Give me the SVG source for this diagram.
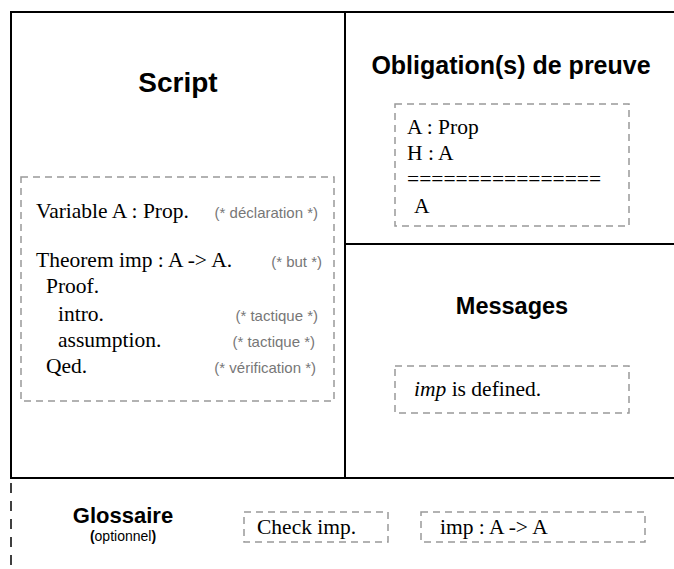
<svg xmlns="http://www.w3.org/2000/svg" width="674" height="569" viewBox="0 0 674 569">
<style>
.frame{fill:none;stroke:#000;stroke-width:2}
.dbox{fill:none;stroke:#999;stroke-width:1.5;stroke-dasharray:7 5}
.title{font-family:"Liberation Sans",Arial,sans-serif;font-weight:bold;fill:#000;text-anchor:middle}
.code{font-family:"Liberation Serif","Times New Roman",serif;font-size:21.5px;fill:#000}
.cmt{font-family:"Liberation Sans",Arial,sans-serif;font-size:15px;fill:#777;text-anchor:end}
</style>
<rect width="674" height="569" fill="#fff"/>
<g id="frame">
<line x1="11" y1="478" x2="674" y2="478" stroke="#999" stroke-width="1.5" stroke-dasharray="7 5"/>
<polyline class="frame" points="674,12 11,12 11,478 674,478"/>
<line class="frame" x1="345" y1="12" x2="345" y2="478"/>
<line class="frame" x1="345" y1="244" x2="674" y2="244"/>
<line x1="11" y1="483" x2="11" y2="569" stroke="#000" stroke-width="1.5" stroke-dasharray="10 8"/>
</g>
<g id="script">
<text class="title" x="178" y="92" font-size="28">Script</text>
<rect class="dbox" x="21" y="177" width="313" height="224"/>
<text class="code" x="36" y="218">Variable A : Prop.</text>
<text class="cmt" x="318" y="218">(* déclaration *)</text>
<text class="code" x="36" y="267">Theorem imp : A -&gt; A.</text>
<text class="cmt" x="322" y="267">(* but *)</text>
<text class="code" x="46" y="293">Proof.</text>
<text class="code" x="58" y="321">intro.</text>
<text class="cmt" x="318" y="321">(* tactique *)</text>
<text class="code" x="58" y="347">assumption.</text>
<text class="cmt" x="315" y="347">(* tactique *)</text>
<text class="code" x="46" y="373">Qed.</text>
<text class="cmt" x="316" y="373">(* vérification *)</text>
</g>
<g id="obligations">
<text class="title" x="511" y="74" font-size="25">Obligation(s) de preuve</text>
<rect class="dbox" x="395" y="104" width="234" height="122"/>
<text class="code" x="407" y="134">A : Prop</text>
<text class="code" x="407" y="160">H : A</text>
<text class="code" x="407" y="186">================</text>
<text class="code" x="414" y="213">A</text>
</g>
<g id="messages">
<text class="title" x="512" y="314" font-size="23.5">Messages</text>
<rect class="dbox" x="395" y="366" width="234" height="47"/>
<text class="code" x="414" y="396"><tspan font-style="italic">imp</tspan> is defined.</text>
</g>
<g id="glossaire">
<text class="title" x="123" y="523" font-size="22">Glossaire</text>
<text class="title" x="123" y="541" font-size="14"><tspan font-weight="bold">(</tspan><tspan font-weight="normal">optionnel</tspan><tspan font-weight="bold">)</tspan></text>
<rect class="dbox" x="244" y="512" width="144" height="30"/>
<text class="code" x="257" y="534">Check imp.</text>
<rect class="dbox" x="421" y="512" width="224" height="30"/>
<text class="code" x="440" y="534">imp : A -&gt; A</text>
</g>
</svg>
